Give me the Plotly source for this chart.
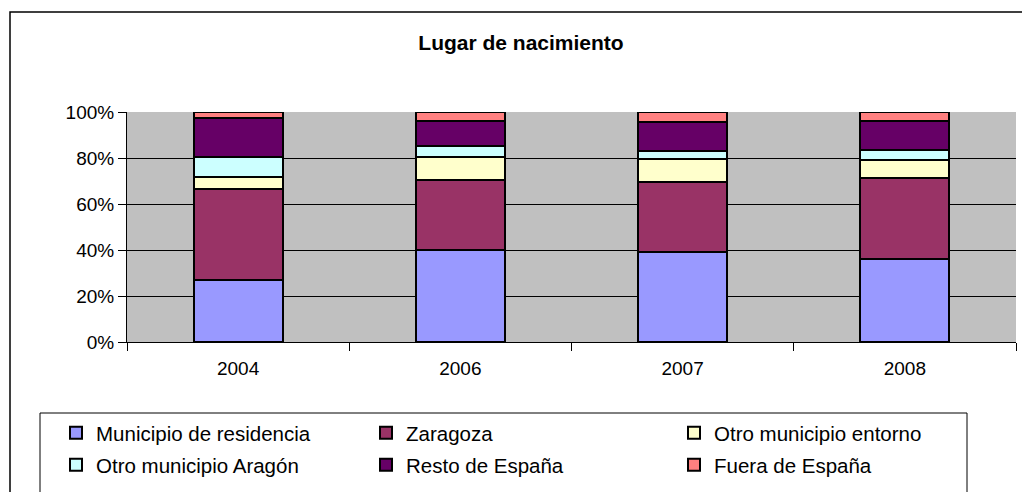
import plotly.graph_objects as go

years = ["2004", "2006", "2007", "2008"]
series_names = ["Municipio de residencia", "Zaragoza", "Otro municipio entorno",
                "Otro municipio Aragón", "Resto de España", "Fuera de España"]
municipio = [26.8, 40.0, 39.0, 36.0]
zaragoza = [39.6, 30.4, 30.4, 35.2]
entorno = [5.2, 9.9, 10.1, 7.8]
aragon = [8.8, 5.0, 3.6, 4.5]
resto = [16.8, 10.9, 12.5, 12.7]
fuera = [2.7, 3.8, 4.3, 3.8]
values = [municipio, zaragoza, entorno, aragon, resto, fuera]
colors = ["#9999FF", "#993366", "#FFFFCC", "#CCFFFF", "#660066", "#FF8080"]
y_ticks = [0, 20, 40, 60, 80, 100]
y_tick_text = ["0%", "20%", "40%", "60%", "80%", "100%"]

W, H = 1022, 492
L, R, T, B = 127, 6, 112, 150
pw, ph = W - L - R, H - T - B


def px(x):
    return (x - L) / pw


def py(y):
    return (H - B - y) / ph


font_family = "Liberation Sans, Arial, sans-serif"
legend_ids = ["legend", "legend2", "legend3", "legend4", "legend5", "legend6"]
legend_pos = [(56, 433), (366, 433), (674, 433), (56, 465), (366, 465), (674, 465)]

fig = go.Figure()
for i, (name, vals, col) in enumerate(zip(series_names, values, colors)):
    fig.add_trace(go.Bar(
        x=years, y=vals, name=name, showlegend=True,
        marker=dict(color=col, line=dict(color="black", width=2)),
        legend=legend_ids[i],
    ))

legend_layout = {}
for lid, (lx, ly) in zip(legend_ids, legend_pos):
    legend_layout[lid] = dict(
        orientation="h", xanchor="left", yanchor="middle",
        x=px(lx), y=py(ly), visible=True,
        font=dict(family=font_family, size=20.5, color="black"),
        bgcolor="rgba(0,0,0,0)", borderwidth=0,
        itemclick=False, itemdoubleclick=False,
    )

fig.update_layout(
    width=W, height=H, showlegend=True,
    margin=dict(l=L, r=R, t=T, b=B, autoexpand=False),
    barmode="stack", bargap=0.6,
    paper_bgcolor="white", plot_bgcolor="#C0C0C0",
    font=dict(family=font_family, size=19, color="black"),
    title=dict(text="<b>Lugar de nacimiento</b>", x=px(521), xref="paper", xanchor="center",
               y=1 - 43 / H, yanchor="middle",
               font=dict(family=font_family, size=21, color="black")),
    xaxis=dict(type="category", showline=True, linecolor="black", linewidth=1,
               ticks="outside", tickson="boundaries", ticklen=8, tickcolor="black",
               ticklabelstandoff=9,
               showgrid=False, tickfont=dict(size=19)),
    yaxis=dict(range=[0, 100], tickvals=y_ticks, ticktext=y_tick_text,
               showline=True, linecolor="black", linewidth=1,
               ticks="outside", ticklen=8, tickcolor="black",
               showgrid=True, gridcolor="black", gridwidth=1,
               zeroline=False, tickfont=dict(size=19)),
    shapes=[
        dict(type="rect", xref="paper", yref="paper",
             x0=px(10), x1=px(1040), y0=py(520), y1=py(12),
             line=dict(color="black", width=1.5), fillcolor="rgba(0,0,0,0)", layer="below"),
        dict(type="rect", xref="paper", yref="paper",
             x0=px(40), x1=px(967), y0=py(520), y1=py(413),
             line=dict(color="black", width=1), fillcolor="rgba(0,0,0,0)", layer="below"),
    ],
    **legend_layout,
)

fig.write_html("out.html", config={"displayModeBar": False},
               post_script="document.body.style.margin='0px';")
